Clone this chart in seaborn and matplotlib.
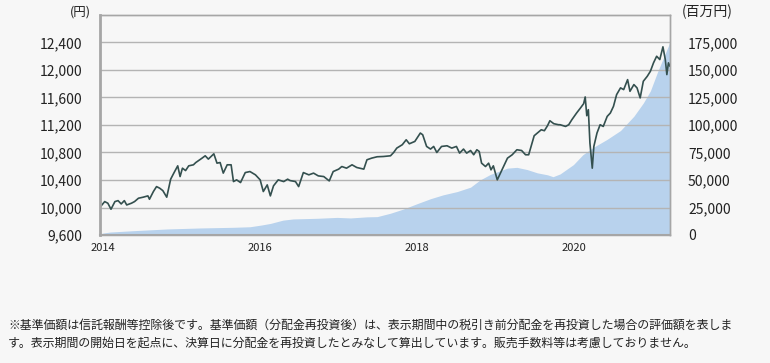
import numpy as np
import pandas as pd
import matplotlib
matplotlib.use("Agg")
import matplotlib.pyplot as plt
import seaborn as sns

# 基準価額（分配金再投資後） - decimal year / 円
nav_year = [2013.96, 2014.02, 2014.06, 2014.10, 2014.15, 2014.19, 2014.23, 2014.27, 2014.30, 2014.36,
            2014.40, 2014.45, 2014.51, 2014.57, 2014.59, 2014.64, 2014.68, 2014.72, 2014.76, 2014.81,
            2014.83, 2014.86, 2014.90, 2014.95, 2014.98, 2015.01, 2015.05, 2015.09, 2015.15, 2015.18,
            2015.26, 2015.30, 2015.34, 2015.41, 2015.45, 2015.49, 2015.53, 2015.58, 2015.63, 2015.66,
            2015.70, 2015.75, 2015.81, 2015.87, 2015.94, 2016.00, 2016.04, 2016.09, 2016.13, 2016.17,
            2016.23, 2016.30, 2016.35, 2016.38, 2016.45, 2016.49, 2016.55, 2016.62, 2016.68, 2016.74,
            2016.81, 2016.88, 2016.93, 2017.00, 2017.04, 2017.10, 2017.17, 2017.23, 2017.32, 2017.36,
            2017.42, 2017.49, 2017.57, 2017.66, 2017.70, 2017.74, 2017.81, 2017.86, 2017.90, 2017.97,
            2018.04, 2018.07, 2018.12, 2018.17, 2018.21, 2018.25, 2018.31, 2018.38, 2018.44, 2018.50,
            2018.54, 2018.59, 2018.63, 2018.68, 2018.72, 2018.76, 2018.79, 2018.82, 2018.87, 2018.91,
            2018.94, 2018.97, 2019.02, 2019.06, 2019.10, 2019.15, 2019.21, 2019.27, 2019.33, 2019.38,
            2019.42, 2019.45, 2019.49, 2019.53, 2019.58, 2019.62, 2019.66, 2019.69, 2019.74, 2019.80,
            2019.82, 2019.89, 2019.93, 2019.97, 2020.03, 2020.08, 2020.12, 2020.14, 2020.16, 2020.18,
            2020.20, 2020.23, 2020.25, 2020.29, 2020.33, 2020.37, 2020.42, 2020.46, 2020.50, 2020.54,
            2020.59, 2020.63, 2020.68, 2020.71, 2020.76, 2020.80, 2020.84, 2020.88, 2020.93, 2020.97,
            2021.01, 2021.05, 2021.09, 2021.13, 2021.16, 2021.18, 2021.20, 2021.22]
nav = [10004, 10086, 10062, 9975, 10086, 10100, 10052, 10100, 10037, 10062,
       10086, 10135, 10150, 10169, 10120, 10232, 10304, 10281, 10246, 10150,
       10256, 10412, 10500, 10606, 10450, 10572, 10537, 10606, 10621, 10654,
       10718, 10752, 10704, 10781, 10645, 10654, 10500, 10621, 10621, 10377,
       10402, 10363, 10508, 10523, 10475, 10402, 10232, 10329, 10169, 10315,
       10402, 10377, 10412, 10392, 10377, 10304, 10508, 10475, 10500, 10460,
       10450, 10387, 10523, 10558, 10596, 10572, 10621, 10582, 10558, 10694,
       10718, 10738, 10742, 10752, 10800, 10864, 10913, 10985, 10927, 10961,
       11083, 11058, 10888, 10850, 10888, 10800, 10888, 10898, 10864, 10888,
       10791, 10850, 10791, 10829, 10767, 10840, 10815, 10645, 10596, 10645,
       10548, 10606, 10402, 10500, 10596, 10718, 10767, 10840, 10829, 10767,
       10767, 10888, 11044, 11083, 11131, 11117, 11190, 11262, 11219, 11204,
       11204, 11179, 11204, 11277, 11374, 11448, 11510, 11608, 11335, 11423,
       10937, 10572, 10888, 11083, 11204, 11179, 11325, 11374, 11471, 11642,
       11740, 11715, 11860, 11690, 11788, 11740, 11594, 11836, 11908, 11981,
       12104, 12200, 12152, 12337, 12152, 11933, 12104, 12054]

# 純資産総額 - decimal year / 百万円
aum_year = [2013.96, 2014.00, 2014.09, 2014.38, 2014.82, 2015.24, 2015.66, 2015.87, 2016.01, 2016.13,
            2016.29, 2016.42, 2016.73, 2016.98, 2017.15, 2017.36, 2017.49, 2017.66, 2017.82, 2018.00,
            2018.17, 2018.33, 2018.51, 2018.68, 2018.80, 2018.93, 2019.06, 2019.15, 2019.27, 2019.40,
            2019.53, 2019.66, 2019.73, 2019.82, 2019.99, 2020.11, 2020.24, 2020.42, 2020.59, 2020.76,
            2020.88, 2020.97, 2021.06, 2021.13, 2021.20, 2021.22]
aum = [1000, 1800, 2700, 3900, 5500, 6400, 7000, 7500, 9000, 10500,
       13500, 14600, 15200, 16000, 15500, 16500, 16700, 19800, 23500, 28500,
       33000, 36500, 39500, 43500, 50000, 55000, 58500, 60800, 61500, 59500,
       56500, 54700, 53000, 55500, 64000, 73000, 79500, 87000, 95000, 108000,
       120000, 131000, 148000, 160000, 172000, 176000]

left_ticks = [9600, 10000, 10400, 10800, 11200, 11600, 12000, 12400]
right_ticks = [0, 25000, 50000, 75000, 100000, 125000, 150000, 175000]
year_ticks = [2014, 2016, 2018, 2020]

note1 = "※基準価額は信託報酬等控除後です。基準価額（分配金再投資後）は、表示期間中の税引き前分配金を再投資した場合の評価額を表しま"
note2 = "す。表示期間の開始日を起点に、決算日に分配金を再投資したとみなして算出しています。販売手数料等は考慮しておりません。"

sns.set_style("white")
plt.rcParams['font.family'] = ['Noto Sans CJK JP', 'DejaVu Sans']

bg = '#f7f7f7'
fig = plt.figure(figsize=(7.7, 3.63), dpi=100, facecolor=bg)
ax = fig.add_axes([100 / 770, 128 / 363, 570 / 770, 220 / 363])
ax2 = ax.twinx()

nav_df = pd.DataFrame({'year': nav_year, 'nav': nav})
aum_df = pd.DataFrame({'year': aum_year, 'aum': aum})

ax2.fill_between(aum_df['year'], 0, aum_df['aum'], color='#b8d2ed', lw=0)
ax2.set_ylim(0, 200000)
ax2.set_facecolor(bg)

ax.set_zorder(ax2.get_zorder() + 1)
ax.patch.set_visible(False)
sns.lineplot(data=nav_df, x='year', y='nav', ax=ax, color='#34504f', lw=1.2)

ax.set_xlim(2013.96, 2021.22)
ax.set_ylim(9600, 12800)
ax.set_yticks(left_ticks)
ax.set_yticklabels([f"{v:,}" for v in left_ticks])
ax2.set_yticks(right_ticks)
ax2.set_yticklabels([f"{v:,}" for v in right_ticks])
ax.set_xticks(year_ticks)
ax.set_xticklabels([str(y) for y in year_ticks])
ax.set_xlabel('')
ax.set_ylabel('')

ax.grid(axis='y', color='#b4b4b4', lw=1)
ax.grid(axis='x', visible=False)
ax.tick_params(axis='y', length=0, pad=13, labelsize=10, labelcolor='#222222')
ax2.tick_params(axis='y', length=0, pad=13, labelsize=10, labelcolor='#222222')
ax.tick_params(axis='x', length=8, direction='inout', width=1, color='#888888',
               labelsize=8, pad=2, labelcolor='#222222')

for a in (ax, ax2):
    for s in a.spines.values():
        s.set_color('#a6a6a6')
        s.set_linewidth(1)
ax.spines['left'].set_linewidth(2)
ax.spines['bottom'].set_linewidth(1.5)
ax2.spines['left'].set_visible(False)

fig.text(80 / 770, 1 - 12 / 363, '(円)', ha='center', va='center', fontsize=9, color='#222222')
fig.text(707 / 770, 1 - 12 / 363, '(百万円)', ha='center', va='center', fontsize=10, color='#222222')
fig.text(8 / 770, 1 - 325 / 363, note1, ha='left', va='center', fontsize=8.6, color='#222222')
fig.text(8 / 770, 1 - 343 / 363, note2, ha='left', va='center', fontsize=8.6, color='#222222')

fig.savefig('out.png', dpi=100, facecolor=bg)
